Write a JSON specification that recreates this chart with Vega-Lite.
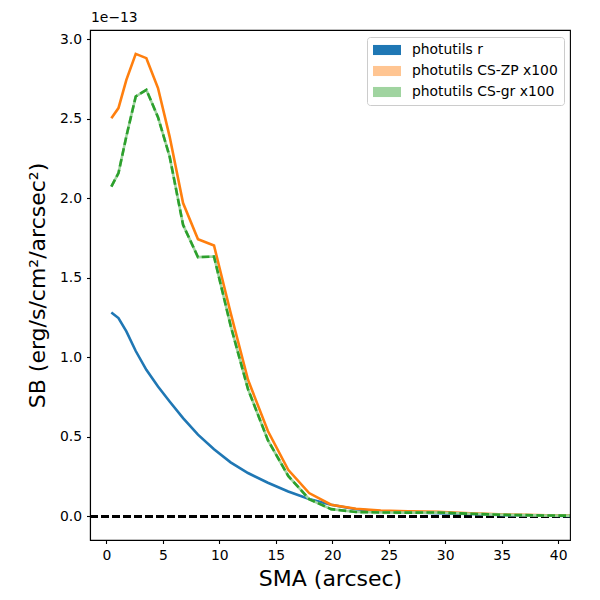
{
  "$schema": "https://vega.github.io/schema/vega-lite/v6.json",
  "autosize": "none",
  "width": 480,
  "height": 510,
  "padding": {"left": 90, "top": 30, "right": 30, "bottom": 60},
  "background": "white",
  "title": {"text": "1e\u221213", "anchor": "start", "frame": "group", "font": "DejaVu Sans", "fontSize": 13.9, "fontWeight": "normal", "color": "black", "offset": 5, "dx": 1},
  "data": {"values": [
    {"sma": 0.44, "sb": 1.282, "series": "photutils r"},
    {"sma": 1.07, "sb": 1.247, "series": "photutils r"},
    {"sma": 1.77, "sb": 1.163, "series": "photutils r"},
    {"sma": 2.6, "sb": 1.04, "series": "photutils r"},
    {"sma": 3.54, "sb": 0.922, "series": "photutils r"},
    {"sma": 4.57, "sb": 0.817, "series": "photutils r"},
    {"sma": 5.6, "sb": 0.723, "series": "photutils r"},
    {"sma": 6.79, "sb": 0.618, "series": "photutils r"},
    {"sma": 8.11, "sb": 0.514, "series": "photutils r"},
    {"sma": 9.53, "sb": 0.422, "series": "photutils r"},
    {"sma": 11.0, "sb": 0.34, "series": "photutils r"},
    {"sma": 12.54, "sb": 0.273, "series": "photutils r"},
    {"sma": 14.3, "sb": 0.212, "series": "photutils r"},
    {"sma": 16.1, "sb": 0.157, "series": "photutils r"},
    {"sma": 17.95, "sb": 0.11, "series": "photutils r"},
    {"sma": 19.9, "sb": 0.074, "series": "photutils r"},
    {"sma": 22.1, "sb": 0.045, "series": "photutils r"},
    {"sma": 24.3, "sb": 0.032, "series": "photutils r"},
    {"sma": 26.7, "sb": 0.026, "series": "photutils r"},
    {"sma": 29.3, "sb": 0.02, "series": "photutils r"},
    {"sma": 32.2, "sb": 0.015, "series": "photutils r"},
    {"sma": 35.4, "sb": 0.008, "series": "photutils r"},
    {"sma": 39.0, "sb": 0.004, "series": "photutils r"},
    {"sma": 42.9, "sb": 0.002, "series": "photutils r"},
    {"sma": 0.44, "sb": 2.504, "series": "photutils CS-ZP x100"},
    {"sma": 1.07, "sb": 2.567, "series": "photutils CS-ZP x100"},
    {"sma": 1.77, "sb": 2.745, "series": "photutils CS-ZP x100"},
    {"sma": 2.6, "sb": 2.908, "series": "photutils CS-ZP x100"},
    {"sma": 3.54, "sb": 2.881, "series": "photutils CS-ZP x100"},
    {"sma": 4.57, "sb": 2.693, "series": "photutils CS-ZP x100"},
    {"sma": 5.6, "sb": 2.388, "series": "photutils CS-ZP x100"},
    {"sma": 6.79, "sb": 1.97, "series": "photutils CS-ZP x100"},
    {"sma": 8.11, "sb": 1.743, "series": "photutils CS-ZP x100"},
    {"sma": 9.53, "sb": 1.703, "series": "photutils CS-ZP x100"},
    {"sma": 11.0, "sb": 1.28, "series": "photutils CS-ZP x100"},
    {"sma": 12.54, "sb": 0.859, "series": "photutils CS-ZP x100"},
    {"sma": 14.3, "sb": 0.537, "series": "photutils CS-ZP x100"},
    {"sma": 16.1, "sb": 0.293, "series": "photutils CS-ZP x100"},
    {"sma": 17.95, "sb": 0.147, "series": "photutils CS-ZP x100"},
    {"sma": 19.9, "sb": 0.074, "series": "photutils CS-ZP x100"},
    {"sma": 22.1, "sb": 0.048, "series": "photutils CS-ZP x100"},
    {"sma": 24.3, "sb": 0.037, "series": "photutils CS-ZP x100"},
    {"sma": 26.7, "sb": 0.032, "series": "photutils CS-ZP x100"},
    {"sma": 29.3, "sb": 0.03, "series": "photutils CS-ZP x100"},
    {"sma": 32.2, "sb": 0.02, "series": "photutils CS-ZP x100"},
    {"sma": 35.4, "sb": 0.012, "series": "photutils CS-ZP x100"},
    {"sma": 39.0, "sb": 0.008, "series": "photutils CS-ZP x100"},
    {"sma": 42.9, "sb": 0.006, "series": "photutils CS-ZP x100"},
    {"sma": 0.44, "sb": 2.074, "series": "photutils CS-gr x100"},
    {"sma": 1.07, "sb": 2.158, "series": "photutils CS-gr x100"},
    {"sma": 1.77, "sb": 2.39, "series": "photutils CS-gr x100"},
    {"sma": 2.6, "sb": 2.64, "series": "photutils CS-gr x100"},
    {"sma": 3.54, "sb": 2.682, "series": "photutils CS-gr x100"},
    {"sma": 4.57, "sb": 2.51, "series": "photutils CS-gr x100"},
    {"sma": 5.6, "sb": 2.263, "series": "photutils CS-gr x100"},
    {"sma": 6.79, "sb": 1.833, "series": "photutils CS-gr x100"},
    {"sma": 8.11, "sb": 1.63, "series": "photutils CS-gr x100"},
    {"sma": 9.53, "sb": 1.634, "series": "photutils CS-gr x100"},
    {"sma": 11.0, "sb": 1.2, "series": "photutils CS-gr x100"},
    {"sma": 12.54, "sb": 0.8, "series": "photutils CS-gr x100"},
    {"sma": 14.3, "sb": 0.48, "series": "photutils CS-gr x100"},
    {"sma": 16.1, "sb": 0.255, "series": "photutils CS-gr x100"},
    {"sma": 17.95, "sb": 0.109, "series": "photutils CS-gr x100"},
    {"sma": 19.9, "sb": 0.046, "series": "photutils CS-gr x100"},
    {"sma": 22.1, "sb": 0.028, "series": "photutils CS-gr x100"},
    {"sma": 24.3, "sb": 0.025, "series": "photutils CS-gr x100"},
    {"sma": 26.7, "sb": 0.024, "series": "photutils CS-gr x100"},
    {"sma": 29.3, "sb": 0.025, "series": "photutils CS-gr x100"},
    {"sma": 32.2, "sb": 0.017, "series": "photutils CS-gr x100"},
    {"sma": 35.4, "sb": 0.01, "series": "photutils CS-gr x100"},
    {"sma": 39.0, "sb": 0.006, "series": "photutils CS-gr x100"},
    {"sma": 42.9, "sb": 0.004, "series": "photutils CS-gr x100"}
  ]},
  "encoding": {
    "x": {"field": "sma", "type": "quantitative", "scale": {"domain": [-1.45, 41.05], "nice": false, "zero": false},
      "axis": {"title": "SMA (arcsec)", "values": [0, 5, 10, 15, 20, 25, 30, 35, 40], "format": "d", "titlePadding": 6}},
    "y": {"field": "sb", "type": "quantitative", "scale": {"domain": [-0.148, 3.058], "nice": false, "zero": false},
      "axis": {"title": "SB (erg/s/cm\u00b2/arcsec\u00b2)", "values": [0, 0.5, 1, 1.5, 2, 2.5, 3], "format": ".1f", "titlePadding": 10}}
  },
  "layer": [
    {"mark": {"type": "rule", "color": "black", "strokeWidth": 2, "strokeDash": [7.7, 3.3]}, "encoding": {"x": {"value": 0}, "x2": {"value": 480}, "y": {"datum": 0}}},
    {"transform": [{"filter": "datum.series === 'photutils r'"}], "mark": {"type": "line", "color": "#1f77b4", "strokeWidth": 2.6, "clip": true}},
    {"transform": [{"filter": "datum.series === 'photutils CS-ZP x100'"}], "mark": {"type": "line", "color": "#ff7f0e", "strokeWidth": 2.6, "clip": true}},
    {"transform": [{"filter": "datum.series === 'photutils CS-gr x100'"}], "mark": {"type": "line", "color": "#a0d4a0", "strokeWidth": 2.6, "clip": true}},
    {"transform": [{"filter": "datum.series === 'photutils CS-gr x100'"}], "mark": {"type": "line", "color": "#2ca02c", "strokeWidth": 2.6, "strokeDash": [7.7, 3.3], "clip": true}},
    {"mark": {"type": "point", "filled": true, "opacity": 0, "clip": true},
      "encoding": {"fill": {"field": "series", "type": "nominal",
        "scale": {"domain": ["photutils r", "photutils CS-ZP x100", "photutils CS-gr x100"], "range": ["#1f77b4", "#ffc592", "#a0d4a0"]},
        "legend": {"title": null, "orient": "none", "legendX": 277, "legendY": 7,
          "symbolType": "M-2,-0.72H2V0.72H-2Z", "symbolSize": 196, "symbolOpacity": 1, "symbolStrokeWidth": 0,
          "symbolOffset": 7, "labelOffset": 18, "rowPadding": 7, "padding": 6,
          "labelFont": "DejaVu Sans", "labelFontSize": 13.9, "labelColor": "black",
          "strokeColor": "#cccccc", "fillColor": "white", "cornerRadius": 3}}}}
  ],
  "config": {
    "view": {"stroke": "black", "strokeWidth": 1.1},
    "axis": {"grid": false, "domainColor": "black", "domainWidth": 1.1, "tickColor": "black", "tickWidth": 1.1, "tickSize": 3.5,
      "labelPadding": 4.9, "labelFont": "DejaVu Sans", "labelFontSize": 13.9, "labelColor": "black",
      "titleFont": "DejaVu Sans", "titleFontSize": 22, "titleFontWeight": "normal", "titleColor": "black"}
  }
}
